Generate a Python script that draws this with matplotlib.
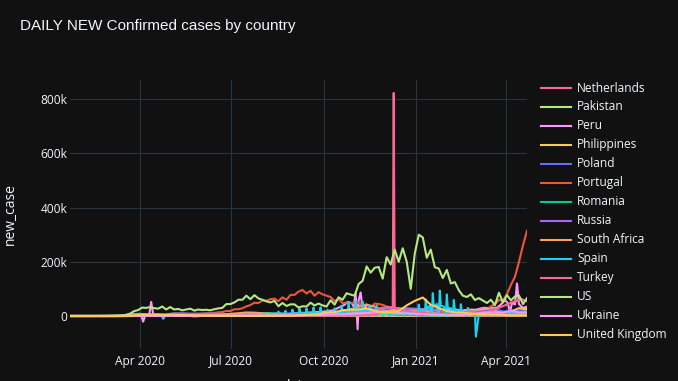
import numpy as np
import pandas as pd
import matplotlib
matplotlib.use('Agg')
import matplotlib.pyplot as plt
import matplotlib.dates as mdates
from matplotlib.ticker import FuncFormatter
from matplotlib.lines import Line2D

plt.rcParams['font.family'] = ['Open Sans', 'DejaVu Sans']

# ==========================================
# data (daily new cases, in thousands)
# ==========================================
# 4-day grid: 2020-01-22 .. 2021-04-22 (115 points)
dates_4d = pd.date_range('2020-01-22', periods=115, freq='4D')
# 8-day grid: 2020-01-22 .. 2021-04-22 (58 points)
dates_8d = pd.date_range('2020-01-22', periods=58, freq='8D')

us_k = [0, 0, 0, 0, 0, 0, 0, 0, 0, 0,
        0.02, 0.1, 0.4, 1.0, 4.0, 9.0, 18, 22, 31, 30,
        33, 29, 27, 35, 24, 33, 24, 26, 21, 24,
        27, 20, 24, 22, 23, 21, 25, 28, 30, 44,
        44, 50, 60, 60, 75, 62, 77, 65, 60, 54,
        50, 56, 36, 48, 37, 43, 43, 31, 36, 35,
        49, 39, 46, 39, 35, 58, 42, 69, 60, 84,
        79, 75, 118, 130, 183, 160, 178, 181, 138, 217,
        190, 245, 200, 250, 200, 100, 230, 300, 290, 215,
        245, 180, 175, 140, 170, 120, 125, 95, 75, 70,
        80, 59, 66, 57, 48, 60, 40, 86, 50, 77,
        58, 72, 76, 44, 66]

india_k = [0, 0, 0, 0, 0, 0, 0, 0, 0, 0,
           0, 0, 0, 0.01, 0.03, 0.08, 0.1, 0.2, 0.5, 0.6,
           0.9, 1.1, 1.3, 1.6, 1.5, 2.3, 3.9, 3.3, 3.7, 5.0,
           5.6, 6.5, 7.3, 8.2, 9.9, 9.9, 11.9, 13.6, 14.8, 18.5,
           18.5, 24.8, 24.9, 28.6, 35.5, 40.4, 49, 47.7, 57, 56,
           62, 64, 55, 69, 60, 78, 78, 90, 96, 83,
           93, 75, 88, 80, 75, 70, 55, 63, 47, 50,
           49, 46, 50, 38, 44, 29, 46, 44, 41, 35,
           32, 30, 22, 25, 24, 18, 19, 16, 18, 12.6,
           15, 13.8, 14.8, 11.7, 8.6, 12.4, 9.1, 12.2, 11.6, 14.3,
           16.6, 12.3, 18.3, 15.4, 25, 35.9, 43.8, 59, 56, 81,
           115, 145, 200, 261, 315]

uk_k = [0, 0, 0, 0, 0, 0.05, 0.07, 0.7, 2.1, 4.5,
        5.2, 5.5, 4.3, 4.4, 3.4, 2.6, 1.9, 1.5, 1.2, 0.9,
        0.7, 0.6, 0.6, 0.8, 0.7, 0.9, 1.0, 1.2, 1.5, 3.5,
        4.4, 6.9, 12.9, 13.9, 21.3, 23.1, 24.1, 27.3, 19.9, 12.3,
        14.7, 18.5, 39.2, 55.9, 68.2, 41.3, 30.0, 18.6, 13.0, 12.7,
        9.0, 6.1, 5.5, 5.6, 4.1, 2.4, 2.6, 2.5]

russia_k = [0, 0, 0, 0, 0, 0, 0.01, 0.03, 0.2, 0.6,
            1.7, 4.3, 6.2, 10.1, 10.0, 8.8, 8.6, 8.9, 8.8, 7.6,
            6.7, 6.6, 6.4, 5.8, 5.5, 5.2, 4.8, 4.7, 4.8, 5.4,
            6.1, 7.5, 10.5, 13.6, 15.9, 17.7, 19.8, 21.9, 24.6, 26.3,
            28.8, 27.0, 28.6, 27.0, 23.6, 22.9, 20.0, 17.0, 15.9, 14.0,
            11.8, 11.0, 10.0, 9.5, 8.8, 8.3, 8.3, 8.9]

poland_k = [0, 0, 0, 0, 0, 0, 0.01, 0.05, 0.2, 0.4,
            0.3, 0.5, 0.3, 0.3, 0.4, 0.4, 0.3, 0.6, 0.4, 0.3,
            0.3, 0.3, 0.3, 0.6, 0.7, 0.8, 0.7, 0.9, 0.6, 0.6,
            1.0, 1.6, 1.9, 4.4, 9.3, 18.8, 27.1, 25.6, 23.9, 11.5,
            4.9, 12.2, 12.1, 13.1, 12.2, 7.6, 5.2, 3.6, 5.9, 7.9,
            12.1, 15.7, 17.2, 26.3, 16.7, 8.8, 21.3, 12.4]

netherlands_k = [0, 0, 0, 0, 0, 0.01, 0.1, 0.4, 1.0, 1.0,
                 1.3, 0.7, 0.4, 0.3, 0.2, 0.2, 0.2, 0.2, 0.1, 0.1,
                 0.05, 0.1, 0.2, 0.3, 0.4, 0.6, 0.6, 0.5, 0.6, 1.1,
                 1.7, 2.8, 3.8, 6.1, 8.2, 9.4, 7.4, 5.4, 5.1, 4.8,
                 6.3, 9.3, 11.9, 9.7, 6.4, 5.2, 4.9, 3.9, 3.6, 4.5,
                 4.6, 4.8, 5.6, 6.9, 7.7, 7.0, 7.8, 8.4]

pakistan_k = [0, 0, 0, 0, 0, 0, 0.01, 0.1, 0.1, 0.3,
              0.4, 0.6, 0.8, 1.3, 1.9, 2.2, 2.4, 4.7, 5.8, 4.5,
              2.8, 3.0, 2.1, 1.1, 0.8, 0.6, 0.5, 0.4, 0.4, 0.6,
              0.5, 0.6, 0.6, 0.6, 0.7, 0.8, 1.3, 2.1, 2.8, 2.9,
              3.0, 2.4, 2.0, 2.6, 2.5, 1.9, 1.6, 1.6, 1.3, 1.4,
              1.3, 1.9, 2.5, 3.9, 4.5, 5.3, 5.4, 5.9]

peru_k = [0, 0, 0, 0, 0, 0, 0.01, 0.1, 0.3, 0.2,
          1.1, 2.9, 2.0, 2.8, 3.5, 4.1, 5.8, 4.1, 4.3, 3.5,
          3.2, 3.7, 3.9, 4.7, 7.2, 6.3, 9.4, 7.3, 5.1, 6.0,
          5.4, 4.7, 3.2, 3.4, 3.1, 2.2, 2.3, 2.2, 1.3, 1.6,
          1.2, 1.6, 2.1, 3.3, 3.9, 5.8, 6.2, 6.8, 9.8, 9.0,
          7.6, 6.8, 8.8, 8.9, 9.1, 10.1, 11.1, 9.8]

philippines_k = [0, 0, 0, 0, 0, 0, 0.01, 0.05, 0.1, 0.4,
                 0.2, 0.2, 0.2, 0.2, 0.3, 0.2, 0.9, 0.6, 0.5, 0.8,
                 1.0, 2.0, 1.8, 2.2, 4.5, 3.0, 4.0, 3.0, 3.5, 3.8,
                 2.6, 2.9, 2.8, 2.6, 1.6, 2.3, 2.0, 1.9, 1.7, 1.6,
                 1.3, 1.6, 1.0, 0.9, 1.8, 1.9, 1.9, 1.6, 2.0, 1.6,
                 2.9, 3.4, 5.0, 7.1, 10.0, 10.0, 11.4, 10.0]

portugal_k = [0, 0, 0, 0, 0, 0, 0.01, 0.1, 0.7, 0.6,
              0.6, 0.5, 0.2, 0.5, 0.3, 0.3, 0.2, 0.3, 0.3, 0.4,
              0.3, 0.4, 0.3, 0.3, 0.2, 0.3, 0.2, 0.4, 0.4, 0.6,
              0.8, 0.8, 0.8, 1.6, 2.5, 4.0, 5.6, 6.6, 6.0, 4.2,
              4.5, 4.3, 3.5, 7.6, 10.2, 10.9, 15.3, 5.9, 2.6, 1.6,
              1.0, 0.9, 0.5, 0.4, 0.4, 0.5, 0.6, 0.6]

romania_k = [0, 0, 0, 0, 0, 0, 0.01, 0.1, 0.2, 0.4,
             0.3, 0.3, 0.3, 0.3, 0.2, 0.2, 0.2, 0.3, 0.3, 0.4,
             0.4, 0.6, 0.8, 1.2, 1.2, 1.3, 1.0, 1.3, 1.2, 1.4,
             1.4, 2.0, 2.1, 3.3, 4.1, 4.7, 8.6, 9.3, 6.0, 9.0,
             6.8, 6.2, 4.2, 4.2, 3.9, 2.9, 2.7, 2.3, 3.1, 3.7,
             3.1, 4.7, 5.9, 6.3, 5.0, 4.9, 3.9, 3.7]

south_africa_k = [0, 0, 0, 0, 0, 0, 0, 0.1, 0.1, 0.1,
                  0.1, 0.1, 0.3, 0.5, 0.7, 0.8, 1.6, 2.3, 3.8, 4.6,
                  8.1, 10.2, 13.1, 12.4, 10.1, 8.2, 2.5, 2.7, 1.7, 1.5,
                  1.9, 1.6, 1.8, 1.4, 1.6, 1.8, 1.9, 2.1, 2.4, 3.2,
                  4.4, 8.2, 13.5, 17.9, 21.9, 11.8, 7.2, 4.5, 2.4, 2.6,
                  1.5, 1.3, 1.2, 0.9, 1.2, 0.8, 1.3, 1.5]

ukraine_k = [0, 0, 0, 0, 0, 0, 0, 0.03, 0.1, 0.1,
             0.3, 0.4, 0.4, 0.5, 0.4, 0.4, 0.5, 0.7, 0.8, 0.9,
             0.9, 0.8, 0.9, 1.1, 1.4, 1.5, 1.7, 2.1, 2.3, 3.0,
             3.8, 3.9, 4.8, 5.9, 6.3, 8.3, 9.8, 11.1, 13.4, 15.1,
             13.2, 11.0, 9.4, 8.4, 7.3, 5.1, 4.6, 2.9, 4.4, 4.0,
             6.8, 9.8, 13.3, 13.1, 12.8, 18.1, 13.0, 13.2]

germany_k = [0, 0, 0, 0, 0, 0.05, 0.4, 2.8, 6.9, 6.2,
             4.1, 2.0, 1.3, 1.0, 0.9, 0.6, 0.7, 0.4, 0.3, 0.6,
             0.4, 0.4, 0.6, 0.8, 0.5, 1.2, 1.5, 1.6, 1.3, 1.9,
             2.1, 2.5, 2.7, 4.7, 7.6, 16.2, 19.5, 23.5, 22.9, 14.6,
             21.0, 27.7, 23.5, 22.9, 24.7, 18.7, 12.3, 6.1, 9.0, 8.0,
             10.0, 10.0, 12.5, 13.7, 11.0, 14.0, 29.4, 24.9]

italy_k = [0, 0, 0, 0, 0.2, 0.6, 1.8, 4.2, 6.2, 4.6,
           4.7, 3.0, 1.7, 1.1, 0.9, 0.7, 0.5, 0.3, 0.3, 0.2,
           0.2, 0.2, 0.2, 0.3, 0.3, 0.5, 0.6, 1.4, 1.3, 1.6,
           1.6, 1.9, 2.6, 4.6, 11.0, 24.9, 34.5, 40.9, 34.8, 20.6,
           18.9, 17.6, 13.3, 23.5, 19.9, 16.1, 11.6, 7.9, 10.6, 12.1,
           16.3, 20.5, 26.8, 20.4, 12.1, 7.8, 16.1, 16.2]

argentina_k = [0, 0, 0, 0, 0, 0, 0.01, 0.05, 0.1, 0.1,
               0.1, 0.1, 0.1, 0.2, 0.3, 0.5, 0.8, 1.0, 1.5, 2.6,
               2.3, 3.4, 4.2, 5.5, 5.9, 7.4, 6.8, 8.7, 10.5, 12.3,
               11.7, 13.5, 14.0, 16.4, 16.3, 11.9, 11.3, 11.0, 9.6, 6.6,
               7.9, 7.0, 8.6, 12.5, 13.8, 10.3, 8.3, 6.5, 7.3, 6.0,
               7.8, 7.9, 9.5, 10.0, 15.8, 20.9, 25.2, 26.6]

colombia_k = [0, 0, 0, 0, 0, 0, 0, 0.03, 0.1, 0.1,
              0.2, 0.2, 0.3, 0.4, 0.5, 0.9, 1.0, 1.4, 2.0, 3.4,
              3.6, 5.1, 8.0, 7.7, 10.1, 11.1, 8.8, 8.2, 7.8, 7.1,
              7.2, 6.8, 5.8, 7.3, 8.4, 9.7, 9.1, 8.0, 8.4, 8.8,
              9.2, 11.9, 13.9, 13.0, 18.1, 18.2, 14.2, 10.8, 6.8, 4.8,
              3.6, 4.6, 4.5, 5.1, 7.7, 11.8, 15.7, 17.6]

mexico_k = [0, 0, 0, 0, 0, 0, 0.01, 0.04, 0.1, 0.2,
            0.4, 0.6, 1.2, 1.4, 2.3, 2.7, 3.2, 3.6, 4.1, 5.0,
            5.4, 6.3, 7.0, 6.6, 4.7, 6.6, 4.8, 6.0, 5.0, 5.2,
            5.1, 4.8, 4.5, 4.0, 5.5, 5.1, 6.0, 5.8, 4.5, 6.0,
            8.6, 10.8, 10.9, 6.8, 15.2, 19.2, 15.7, 15.6, 9.9, 9.1,
            7.3, 6.1, 5.9, 4.4, 3.8, 3.0, 4.3, 3.8]

# irregular reporting -> explicit dates
france_dates = ['2020-02-25', '2020-03-08', '2020-03-16', '2020-03-22', '2020-03-28',
                '2020-03-31', '2020-04-02', '2020-04-04', '2020-04-06', '2020-04-10',
                '2020-04-12', '2020-04-14', '2020-04-20', '2020-04-29', '2020-05-05',
                '2020-05-20', '2020-06-05', '2020-06-20', '2020-07-05', '2020-07-20',
                '2020-08-01', '2020-08-15', '2020-08-28', '2020-09-05', '2020-09-12',
                '2020-09-19', '2020-09-26', '2020-10-03', '2020-10-10', '2020-10-17',
                '2020-10-22', '2020-10-25', '2020-10-29', '2020-10-31', '2020-11-02',
                '2020-11-04', '2020-11-05', '2020-11-07', '2020-11-09', '2020-11-12',
                '2020-11-16', '2020-11-20', '2020-11-25', '2020-12-01', '2020-12-07',
                '2020-12-14', '2020-12-21', '2020-12-28', '2021-01-05', '2021-01-12',
                '2021-01-19', '2021-01-26', '2021-02-02', '2021-02-09', '2021-02-16',
                '2021-02-23', '2021-03-02', '2021-03-09', '2021-03-16', '2021-03-23',
                '2021-03-27', '2021-03-31', '2021-04-03', '2021-04-05', '2021-04-07',
                '2021-04-10', '2021-04-12', '2021-04-14', '2021-04-18', '2021-04-22']
france_k = [0, 0.3, 0.9, 1.8, 4.6, 7.6, 4.9, -21, 3.0, 4.3,
            52, 5.5, 2.5, 1.5, 1.0, 0.5, 0.8, 0.5, 0.6, 0.9,
            1.3, 3.2, 7.4, 8.5, 10.6, 13.5, 14.4, 16.9, 20.3, 32.4,
            41.6, 52.0, 47.6, 35.6, 84, -49, 58, 86.8, 22, 35.8,
            9.4, 22.9, 13.6, 8.1, 11.0, 11.5, 5.9, 3.1, 20.3, 23.6,
            23.7, 22.1, 23.3, 24.5, 19.6, 23.7, 23.1, 29.9, 29.7, 30.5,
            42.6, 59.0, 46.7, 11.0, 49.0, 42.6, 120, 43.5, 30.0, 34.3]

turkey_dates = ['2020-03-11', '2020-03-20', '2020-03-28', '2020-04-04', '2020-04-11',
                '2020-04-18', '2020-04-26', '2020-05-05', '2020-05-15', '2020-05-25',
                '2020-06-05', '2020-06-12', '2020-06-20', '2020-07-01', '2020-07-15',
                '2020-08-01', '2020-08-15', '2020-09-01', '2020-09-15', '2020-10-01',
                '2020-10-15', '2020-11-01', '2020-11-15', '2020-11-24', '2020-11-26',
                '2020-12-02', '2020-12-09', '2020-12-10', '2020-12-11', '2020-12-15',
                '2020-12-22', '2020-12-30', '2021-01-08', '2021-01-20', '2021-02-01',
                '2021-02-12', '2021-02-24', '2021-03-05', '2021-03-15', '2021-03-24',
                '2021-03-31', '2021-04-06', '2021-04-12', '2021-04-16', '2021-04-22']
turkey_k = [0, 0.2, 2.0, 3.0, 5.1, 3.8, 2.9, 1.8, 1.7, 1.0,
            0.9, 1.4, 1.2, 1.2, 0.9, 1.0, 1.2, 1.6, 1.7, 1.4,
            1.8, 2.3, 3.3, 6.0, 29.1, 31.9, 32.1, 823.2, 30.4, 28.0,
            20.3, 14.5, 11.7, 6.2, 5.9, 7.5, 10.9, 11.8, 15.7, 29.3,
            39.3, 49.6, 55.8, 63.1, 53.9]

spain_early_dates = ['2020-02-25', '2020-03-05', '2020-03-12', '2020-03-16', '2020-03-20',
                     '2020-03-24', '2020-03-28', '2020-04-01', '2020-04-05', '2020-04-09',
                     '2020-04-13', '2020-04-17', '2020-04-22', '2020-04-24', '2020-04-26',
                     '2020-05-01', '2020-05-10', '2020-05-20', '2020-05-25', '2020-06-01',
                     '2020-06-10', '2020-06-19', '2020-06-26']
spain_early_k = [0, 0.1, 0.9, 2.0, 3.5, 6.6, 7.5, 8.2, 6.0, 5.0,
                 3.3, 5.9, 4.2, -10.5, 1.7, 1.0, 0.6, 0.4, -1.7, 0.2,
                 0.3, 0.4, 0.3]
# weekly from Sunday 2020-06-28: weekend zero, Monday backlog, Tue / Fri levels
spain_weeks = pd.date_range('2020-06-28', periods=43, freq='7D')
spain_sun_k = [0, 0, 0, 0, 0, 0, 0, 0, 0, 0,
               0, 0, 0, 0, 0, 0, 0, 0, 0, 0,
               0, 0, 0, 0, 0, 0, 0, 0, 0, 0,
               0, 0, 0, 0, 0, 0, 0, 0, 0, 0,
               0, 0, 0]
spain_mon_k = [0.7, 0.9, 1.0, 2.2, 2.7, 8.5, 8.0, 16.3, 19.4, 23.6,
               26.6, 27.4, 31.4, 31.8, 23.5, 27.9, 37.9, 52.2, 55.0, 52.4,
               39.5, 38.0, 21.6, 8.0, 27.9, 25.0, 24.5, 42.2, 61.4, 84.3,
               93.8, 79.7, 59.1, 43.3, 29.7, 18.4, 14.2, 12.2, 13.8, 8.0,
               23.0, 17.0, 16.0]
spain_tue_k = [0.4, 0.8, 0.6, 1.0, 1.2, 1.5, 2.4, 3.0, 3.5, 8.9,
               9.4, 9.4, 10.8, 9.9, 11.0, 7.1, 13.9, 18.4, 17.2, 17.4,
               13.2, 12.2, 8.0, 7.9, 11.8, 10.3, 11.9, 17.1, 25.4, 34.3,
               37.6, 29.9, 21.0, 13.2, 11.4, -76.0, 6.4, 5.3, 6.2, 5.1,
               6.0, 10.0, 9.4]
spain_fri_k = [0.5, 0.9, 0.6, 1.0, 1.2, 1.7, 2.9, 3.6, 3.8, 9.1,
               10.8, 11.3, 10.7, 9.4, 12.4, 13.3, 20.9, 23.6, 21.9, 19.5,
               16.0, 12.3, 9.6, 12.0, 11.8, 12.1, 11.8, 20.0, 38.1, 44.4,
               34.9, 28.6, 19.0, 11.4, 9.4, 7.9, 6.7, 6.2, 8.6, 5.5,
               9.8, 10.1, 9.9]

spain = pd.concat([
    pd.Series(spain_early_k, index=pd.to_datetime(spain_early_dates)),
    pd.Series(spain_sun_k, index=spain_weeks),
    pd.Series(spain_mon_k, index=spain_weeks + pd.Timedelta(days=1)),
    pd.Series(spain_tue_k, index=spain_weeks + pd.Timedelta(days=2)),
    pd.Series(spain_fri_k, index=spain_weeks + pd.Timedelta(days=5)),
]).sort_index()
spain = spain[spain.index <= '2021-04-22']

# plotting order (alphabetical, like the source) and colours
series = [
    ('Argentina', dates_8d, argentina_k, '#636EFA'),
    ('Colombia', dates_8d, colombia_k, '#00CC96'),
    ('France', pd.to_datetime(france_dates), france_k, '#FF97FF'),
    ('Germany', dates_8d, germany_k, '#FECB52'),
    ('India', dates_4d, india_k, '#EF553B'),
    ('Italy', dates_8d, italy_k, '#FFA15A'),
    ('Mexico', dates_8d, mexico_k, '#19D3F3'),
    ('Netherlands', dates_8d, netherlands_k, '#FF6692'),
    ('Pakistan', dates_8d, pakistan_k, '#B6E880'),
    ('Peru', dates_8d, peru_k, '#FF97FF'),
    ('Philippines', dates_8d, philippines_k, '#FECB52'),
    ('Poland', dates_8d, poland_k, '#636EFA'),
    ('Portugal', dates_8d, portugal_k, '#EF553B'),
    ('Romania', dates_8d, romania_k, '#00CC96'),
    ('Russia', dates_8d, russia_k, '#AB63FA'),
    ('South Africa', dates_8d, south_africa_k, '#FFA15A'),
    ('Spain', spain.index, spain.values, '#19D3F3'),
    ('Turkey', pd.to_datetime(turkey_dates), turkey_k, '#FF6692'),
    ('US', dates_4d, us_k, '#B6E880'),
    ('Ukraine', dates_8d, ukraine_k, '#FF97FF'),
    ('United Kingdom', dates_8d, uk_k, '#FECB52'),
]
legend_names = ['Netherlands', 'Pakistan', 'Peru', 'Philippines', 'Poland', 'Portugal',
                'Romania', 'Russia', 'South Africa', 'Spain', 'Turkey', 'US',
                'Ukraine', 'United Kingdom']

# ==========================================
# figure
# ==========================================
BG = '#111111'
GRID = '#283442'
FG = '#f2f5fa'
W, H = 678, 381

fig = plt.figure(figsize=(W / 100, H / 100), dpi=100, facecolor=BG)
ax = fig.add_axes([70 / W, 32 / H, 457 / W, 269 / H], facecolor=BG)

colors = {}
for name, d, v, c in series:
    ax.plot(d, np.asarray(v, dtype=float) * 1000, color=c, lw=1.5, solid_joinstyle='round')
    colors[name] = c

ax.set_xlim(pd.Timestamp('2020-01-22'), pd.Timestamp('2021-04-22'))
ax.set_ylim(-121.8e3, 871e3)
ax.set_yticks([0, 200e3, 400e3, 600e3, 800e3])
ax.yaxis.set_major_formatter(FuncFormatter(lambda v, p: '0' if v == 0 else f'{int(v / 1000)}k'))
ax.xaxis.set_major_locator(mdates.MonthLocator(bymonth=[1, 4, 7, 10]))
ax.xaxis.set_major_formatter(mdates.DateFormatter('%b %Y'))

ax.grid(True, color=GRID, lw=0.8)
ax.set_axisbelow(True)
for s in ax.spines.values():
    s.set_visible(False)
ax.tick_params(length=0, colors=FG, labelsize=8.6)
ax.tick_params(axis='y', pad=2)
ax.tick_params(axis='x', pad=4)

fig.text(20 / W, 1 - 30 / H, 'DAILY NEW Confirmed cases by country', color=FG,
         fontsize=11, va='baseline', ha='left', family=['Liberation Sans', 'DejaVu Sans'])
fig.text(10 / W, 1 - 214 / H, 'new_case', color=FG, fontsize=10, rotation=90,
         va='center', ha='center')
# x title sits almost entirely below the canvas edge, as in the source
fig.text(296 / W, 1 - 390 / H, 'date', color=FG, fontsize=10, va='baseline', ha='center')

# legend
for k, name in enumerate(legend_names):
    y = 1 - (88 + 18.97 * k) / H
    fig.add_artist(Line2D([541 / W, 571 / W], [y, y], transform=fig.transFigure,
                          color=colors[name], lw=1.5))
    fig.text(577 / W, y, name, color=FG, fontsize=8.6, va='center', ha='left')

fig.savefig('out.png', dpi=100, facecolor=BG)
